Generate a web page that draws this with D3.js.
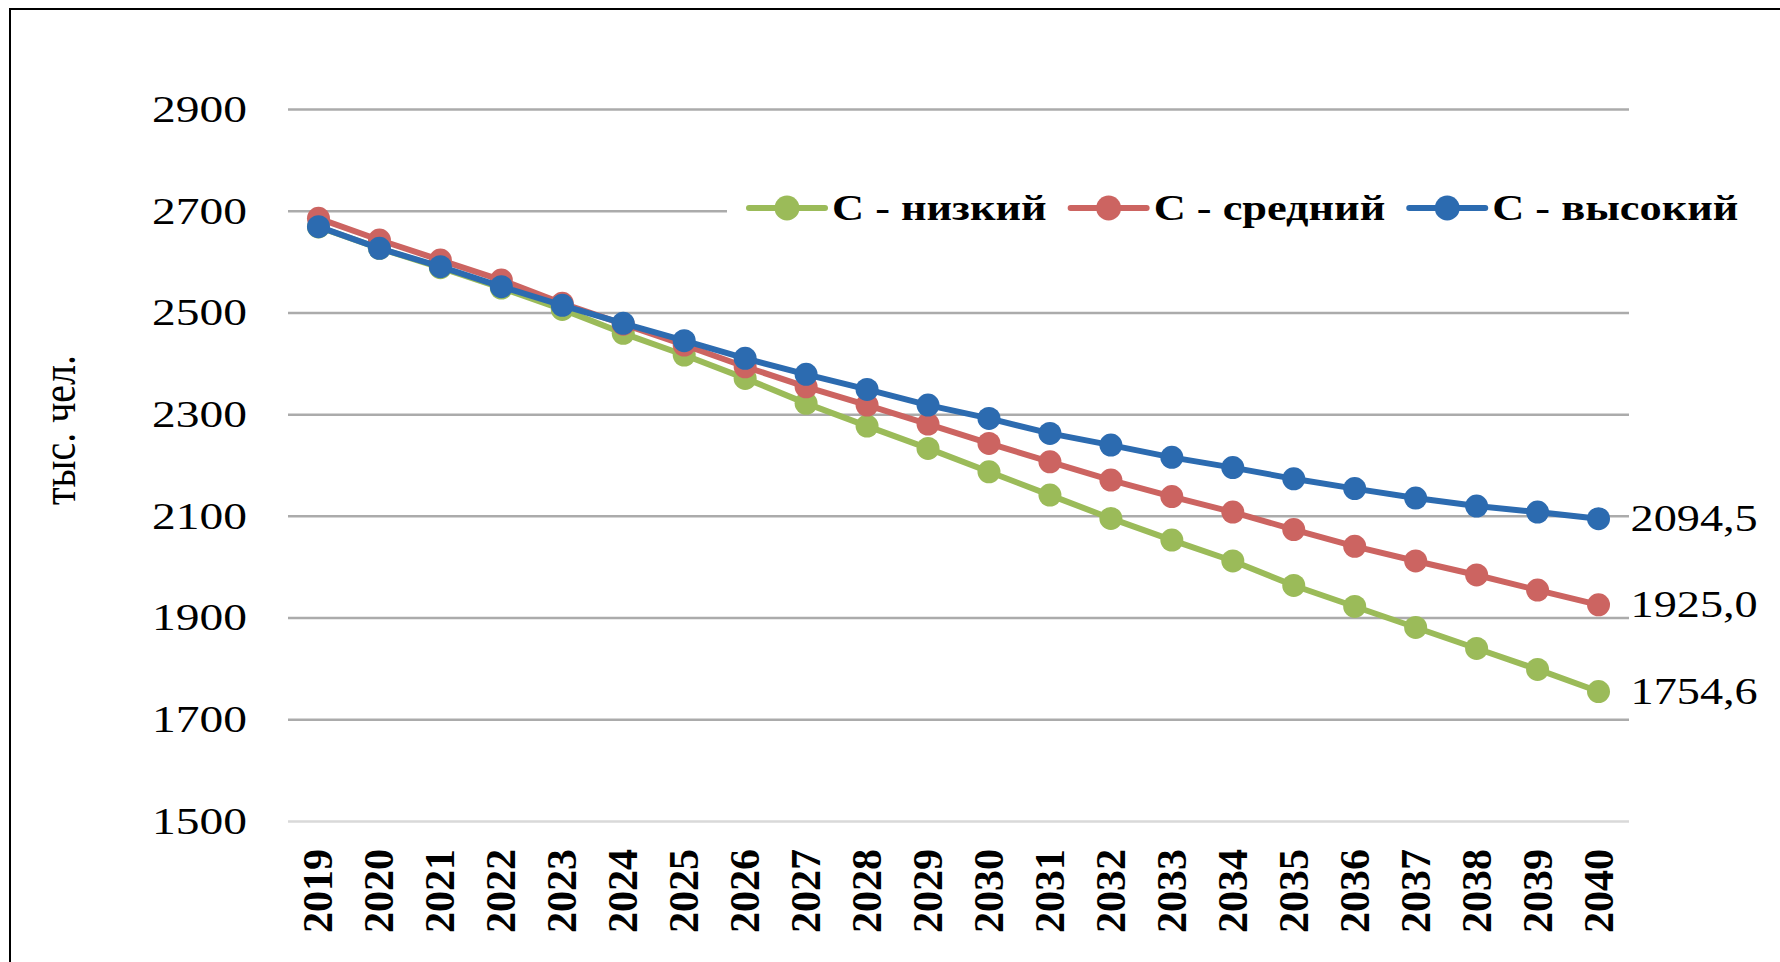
<!DOCTYPE html>
<html>
<head>
<meta charset="utf-8">
<title>Прогноз численности населения</title>
<script src="https://cdn.jsdelivr.net/npm/d3@7"></script>
<style>
  body { margin: 0; background: #fff; }
  text { font-family: "Liberation Serif", "Times New Roman", serif; fill: #000; }
</style>
</head>
<body>
<script>
////////// data //////////
var years = [2019, 2020, 2021, 2022, 2023, 2024, 2025, 2026, 2027, 2028, 2029,
             2030, 2031, 2032, 2033, 2034, 2035, 2036, 2037, 2038, 2039, 2040];

var lowValues  = [2668, 2626, 2588, 2548, 2506, 2458.9, 2416.2, 2370.3, 2321.2, 2276.5, 2232.6,
                  2186.6, 2140.8, 2094.9, 2052.3, 2011.3, 1963.1, 1921.8, 1880.5, 1839.2, 1798, 1754.6];
var midValues  = [2685, 2642.4, 2603, 2563.7, 2518, 2477, 2435.9, 2393.2, 2353.8, 2317.8, 2280.5,
                  2242.5, 2206.3, 2170.3, 2138, 2107.5, 2073, 2040, 2011.3, 1983.8, 1954, 1925.0];
var highValues = [2668.6, 2626, 2590, 2550.6, 2514, 2478.6, 2444.4, 2409.7, 2378.2, 2348.7, 2317.8,
                  2291.6, 2262.1, 2239.1, 2215, 2194.9, 2172.8, 2153.6, 2135, 2119.3, 2107.5, 2094.5];

var seriesNames = ["С - низкий", "С - средний", "С - высокий"];
var endLabels   = ["1754,6", "1925,0", "2094,5"];
var yTicks      = [1500, 1700, 1900, 2100, 2300, 2500, 2700, 2900];
var yTitle      = "тыс. чел.";
var colors      = ["#9bbb59", "#cc6461", "#2c6bb0"];

var series = [lowValues, midValues, highValues].map(function(vals, i) {
    return { name: seriesNames[i], color: colors[i], label: endLabels[i],
             values: vals.map(function(v, j) { return { year: years[j], value: v }; }) };
});

////////// svg //////////
var w = 1780, h = 962;
var margin = {top: 109, right: 151, bottom: 141, left: 288};
var width = w - margin.left - margin.right;
var height = h - margin.top - margin.bottom;
var sx = 1.25; // the source picture is stretched sideways

var root = d3.select("body").append("svg")
    .attr("width", w)
    .attr("height", h);

root.append("rect")
    .attr("x", 10).attr("y", 9)
    .attr("width", 1800).attr("height", 1000)
    .attr("fill", "#fff")
    .attr("stroke", "#000")
    .attr("stroke-width", 2);

var svg = root.append("g")
    .attr("transform", "translate(" + margin.left + "," + margin.top + ")");

////////// scales //////////
var xScale = d3.scalePoint()
    .domain(years)
    .range([0, width])
    .padding(0.5);

var yScale = d3.scaleLinear()
    .domain([1500, 2900])
    .range([height, 0]);

////////// gridlines + y labels //////////
var yAxis = d3.axisLeft(yScale).tickValues(yTicks).tickSize(-width).tickFormat("");
var yg = svg.append("g").call(yAxis);
yg.select(".domain").remove();
yg.selectAll(".tick line")
    .attr("stroke", function(d) { return d == 1500 ? "#d9d9d9" : "#ababab"; })
    .attr("stroke-width", 2.5);

svg.selectAll(".ylab")
    .data(yTicks)
    .enter().append("text")
    .attr("class", "ylab")
    .attr("transform", function(d) { return "translate(-41," + yScale(d) + ") scale(" + sx + ",1)"; })
    .attr("text-anchor", "end")
    .attr("dominant-baseline", "central")
    .style("font-size", "38px")
    .text(function(d) { return d; });

////////// x labels //////////
svg.selectAll(".xlab")
    .data(years)
    .enter().append("text")
    .attr("class", "xlab")
    .attr("transform", function(d) { return "translate(" + xScale(d) + "," + (height + 112) + ") rotate(-90)"; })
    .attr("dominant-baseline", "central")
    .style("font-size", "42px")
    .style("font-weight", "bold")
    .text(function(d) { return d; });

////////// y title //////////
root.append("text")
    .attr("transform", "translate(59,430) scale(1.2,1) rotate(-90)")
    .attr("text-anchor", "middle")
    .attr("dominant-baseline", "central")
    .style("font-size", "40px")
    .text(yTitle);

////////// legend (white box covers part of the 2700 line) //////////
root.append("rect")
    .attr("x", 727).attr("y", 183)
    .attr("width", 1060).attr("height", 52)
    .attr("fill", "#fff");

////////// lines + markers //////////
var line = d3.line()
    .x(function(d) { return xScale(d.year); })
    .y(function(d) { return yScale(d.value); });

var sg = svg.selectAll(".series")
    .data(series)
    .enter().append("g")
    .attr("class", "series");

sg.append("path")
    .attr("d", function(d) { return line(d.values); })
    .attr("fill", "none")
    .attr("stroke", function(d) { return d.color; })
    .attr("stroke-width", 6)
    .attr("stroke-linejoin", "round");

sg.selectAll("circle")
    .data(function(d) { return d.values.map(function(v) { return {v: v, c: d.color}; }); })
    .enter().append("circle")
    .attr("cx", function(d) { return xScale(d.v.year); })
    .attr("cy", function(d) { return yScale(d.v.value); })
    .attr("r", 11.5)
    .attr("fill", function(d) { return d.c; });

// end value labels
sg.append("text")
    .attr("transform", function(d) {
        var last = d.values[d.values.length - 1];
        return "translate(" + (xScale(last.year) + 32) + "," + yScale(last.value) + ") scale(" + sx + ",1)";
    })
    .attr("dominant-baseline", "central")
    .style("font-size", "37px")
    .text(function(d) { return d.label; });

////////// legend items //////////
var lx = 749;
var legend = root.append("g");
series.forEach(function(s) {
    var g = legend.append("g");
    g.append("line")
        .attr("x1", lx).attr("x2", lx + 76)
        .attr("y1", 208).attr("y2", 208)
        .attr("stroke", s.color).attr("stroke-width", 6)
        .attr("stroke-linecap", "round");
    g.append("circle")
        .attr("cx", lx + 38).attr("cy", 208).attr("r", 12.5)
        .attr("fill", s.color);
    var t = g.append("text")
        .attr("transform", "translate(" + (lx + 83) + ",220) scale(" + sx + ",1)")
        .style("font-size", "35.5px")
        .style("font-weight", "bold")
        .text(s.name);
    lx = lx + 83 + t.node().getComputedTextLength() * sx + 24;
});
</script>
</body>
</html>
